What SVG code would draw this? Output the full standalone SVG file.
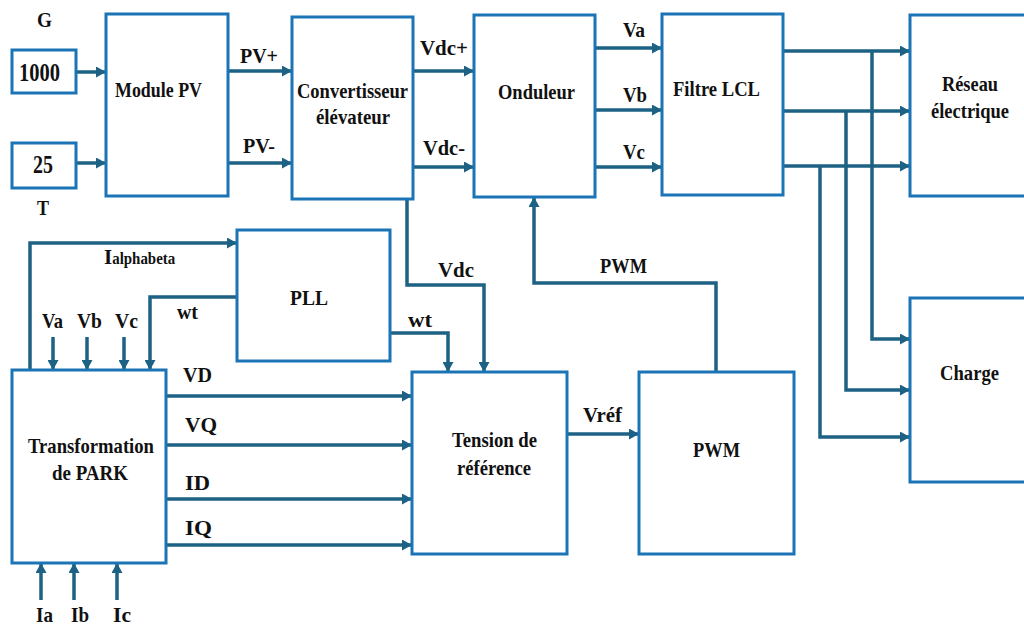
<svg xmlns="http://www.w3.org/2000/svg" width="1024" height="625" viewBox="0 0 1024 625">
<style>
.box{fill:#fff;stroke:#1b74b6;stroke-width:3}
.c{fill:none;stroke:#1d6184;stroke-width:3.5}
.a{marker-end:url(#ah)}
text{font-family:'Liberation Serif','Times New Roman','DejaVu Serif',serif;font-weight:700;fill:#111;font-size:22px}
.s{font-size:21px}
.sub{font-size:16px}
.big{font-size:25px}
</style>
<defs>
<marker id="ah" markerUnits="userSpaceOnUse" markerWidth="11" markerHeight="11" refX="10" refY="5.5" orient="auto">
<path d="M0,0 L10,5.5 L0,11 z" fill="#1d6184"/>
</marker>
</defs>
<rect width="1024" height="625" fill="#fff"/>
<g id="connectors">
<path class="c a" d="M76,72 H106"/>
<path class="c a" d="M76,163 H106"/>
<path class="c a" d="M228,71 H292"/>
<path class="c a" d="M228,163 H292"/>
<path class="c a" d="M413,71 H474"/>
<path class="c a" d="M413,167 H474"/>
<path class="c a" d="M595,48 H662"/>
<path class="c a" d="M595,110 H662"/>
<path class="c a" d="M595,167 H662"/>
<path class="c a" d="M783,51 H910"/>
<path class="c a" d="M783,111 H910"/>
<path class="c a" d="M783,166 H910"/>
<path class="c a" d="M872,51 V339 H910"/>
<path class="c a" d="M846,111 V390 H910"/>
<path class="c a" d="M820,166 V437 H910"/>
<path class="c a" d="M407,199 V285 H484 V372"/>
<path class="c a" d="M716,372 V283 H534 V197"/>
<path class="c a" d="M390,333 H448 V372"/>
<path class="c a" d="M237,297 H150 V370"/>
<path class="c a" d="M30,370 V243 H237"/>
<path class="c a" d="M53,337 V370"/>
<path class="c a" d="M87,337 V370"/>
<path class="c a" d="M124,337 V370"/>
<path class="c a" d="M41,600 V563"/>
<path class="c a" d="M74,600 V563"/>
<path class="c a" d="M117,600 V563"/>
<path class="c a" d="M166,396 H412"/>
<path class="c a" d="M166,445 H412"/>
<path class="c a" d="M166,499 H412"/>
<path class="c a" d="M166,545 H412"/>
<path class="c a" d="M567,434 H639"/>
</g>
<g id="g1000"><rect class="box" x="12" y="50" width="64" height="43"/><text class="big" x="19" y="81" textLength="41" lengthAdjust="spacingAndGlyphs">1000</text></g>
<g id="g25"><rect class="box" x="12" y="143" width="64" height="45"/><text class="big" x="33" y="173" textLength="20" lengthAdjust="spacingAndGlyphs">25</text></g>
<g id="module"><rect class="box" x="106" y="14" width="122" height="182"/><text x="115" y="97" textLength="87" lengthAdjust="spacingAndGlyphs">Module PV</text></g>
<g id="conv"><rect class="box" x="292" y="17" width="121" height="182"/><text x="297" y="98" textLength="111" lengthAdjust="spacingAndGlyphs">Convertisseur</text><text x="316" y="124" textLength="74" lengthAdjust="spacingAndGlyphs">élévateur</text></g>
<g id="onduleur"><rect class="box" x="474" y="15" width="121" height="182"/><text x="498" y="99" textLength="77" lengthAdjust="spacingAndGlyphs">Onduleur</text></g>
<g id="filtre"><rect class="box" x="662" y="14" width="121" height="181"/><text x="673" y="96" textLength="87" lengthAdjust="spacingAndGlyphs">Filtre LCL</text></g>
<g id="reseau"><rect class="box" x="910" y="15" width="130" height="181"/><text x="942" y="91" textLength="56" lengthAdjust="spacingAndGlyphs">Réseau</text><text x="931" y="118" textLength="78" lengthAdjust="spacingAndGlyphs">électrique</text></g>
<g id="charge"><rect class="box" x="910" y="298" width="130" height="184"/><text x="940" y="380" textLength="59" lengthAdjust="spacingAndGlyphs">Charge</text></g>
<g id="pll"><rect class="box" x="237" y="230" width="153" height="131"/><text x="290" y="305" textLength="38" lengthAdjust="spacingAndGlyphs">PLL</text></g>
<g id="park"><rect class="box" x="12" y="370" width="154" height="193"/><text x="28" y="453" textLength="126" lengthAdjust="spacingAndGlyphs">Transformation</text><text x="52" y="480" textLength="76" lengthAdjust="spacingAndGlyphs">de PARK</text></g>
<g id="tension"><rect class="box" x="412" y="372" width="155" height="182"/><text x="452" y="447" textLength="85" lengthAdjust="spacingAndGlyphs">Tension de</text><text x="457" y="475" textLength="74" lengthAdjust="spacingAndGlyphs">référence</text></g>
<g id="pwm"><rect class="box" x="639" y="372" width="155" height="182"/><text x="693" y="457" textLength="47" lengthAdjust="spacingAndGlyphs">PWM</text></g>
<g id="labels">
<text class="s" x="37" y="27" textLength="15" lengthAdjust="spacingAndGlyphs">G</text>
<text class="s" x="37" y="215" textLength="12" lengthAdjust="spacingAndGlyphs">T</text>
<text class="s" x="240" y="63" textLength="38" lengthAdjust="spacingAndGlyphs">PV+</text>
<text class="s" x="243" y="153" textLength="32" lengthAdjust="spacingAndGlyphs">PV-</text>
<text class="s" x="420" y="55" textLength="48" lengthAdjust="spacingAndGlyphs">Vdc+</text>
<text class="s" x="423" y="155" textLength="42" lengthAdjust="spacingAndGlyphs">Vdc-</text>
<text class="s" x="623" y="37" textLength="22" lengthAdjust="spacingAndGlyphs">Va</text>
<text class="s" x="623" y="102" textLength="24" lengthAdjust="spacingAndGlyphs">Vb</text>
<text class="s" x="623" y="159" textLength="22" lengthAdjust="spacingAndGlyphs">Vc</text>
<text class="s" x="104" y="264">I<tspan class="sub" textLength="63" lengthAdjust="spacingAndGlyphs">alphabeta</tspan></text>
<text class="s" x="177" y="319" textLength="21" lengthAdjust="spacingAndGlyphs">wt</text>
<text class="s" x="42" y="328" textLength="21" lengthAdjust="spacingAndGlyphs">Va</text>
<text class="s" x="77" y="328" textLength="25" lengthAdjust="spacingAndGlyphs">Vb</text>
<text class="s" x="115" y="328" textLength="23" lengthAdjust="spacingAndGlyphs">Vc</text>
<text class="s" x="183" y="382" textLength="29" lengthAdjust="spacingAndGlyphs">VD</text>
<text class="s" x="185" y="432" textLength="32" lengthAdjust="spacingAndGlyphs">VQ</text>
<text class="s" x="185" y="490" textLength="25" lengthAdjust="spacingAndGlyphs">ID</text>
<text class="s" x="185" y="535" textLength="27" lengthAdjust="spacingAndGlyphs">IQ</text>
<text class="s" x="36" y="622" textLength="17" lengthAdjust="spacingAndGlyphs">Ia</text>
<text class="s" x="71" y="622" textLength="18" lengthAdjust="spacingAndGlyphs">Ib</text>
<text class="s" x="113" y="622" textLength="18" lengthAdjust="spacingAndGlyphs">Ic</text>
<text class="s" x="438" y="277" textLength="36" lengthAdjust="spacingAndGlyphs">Vdc</text>
<text class="s" x="408" y="327" textLength="24" lengthAdjust="spacingAndGlyphs">wt</text>
<text class="s" x="600" y="273" textLength="47" lengthAdjust="spacingAndGlyphs">PWM</text>
<text class="s" x="583" y="422" textLength="39" lengthAdjust="spacingAndGlyphs">Vréf</text>
</g>
</svg>
